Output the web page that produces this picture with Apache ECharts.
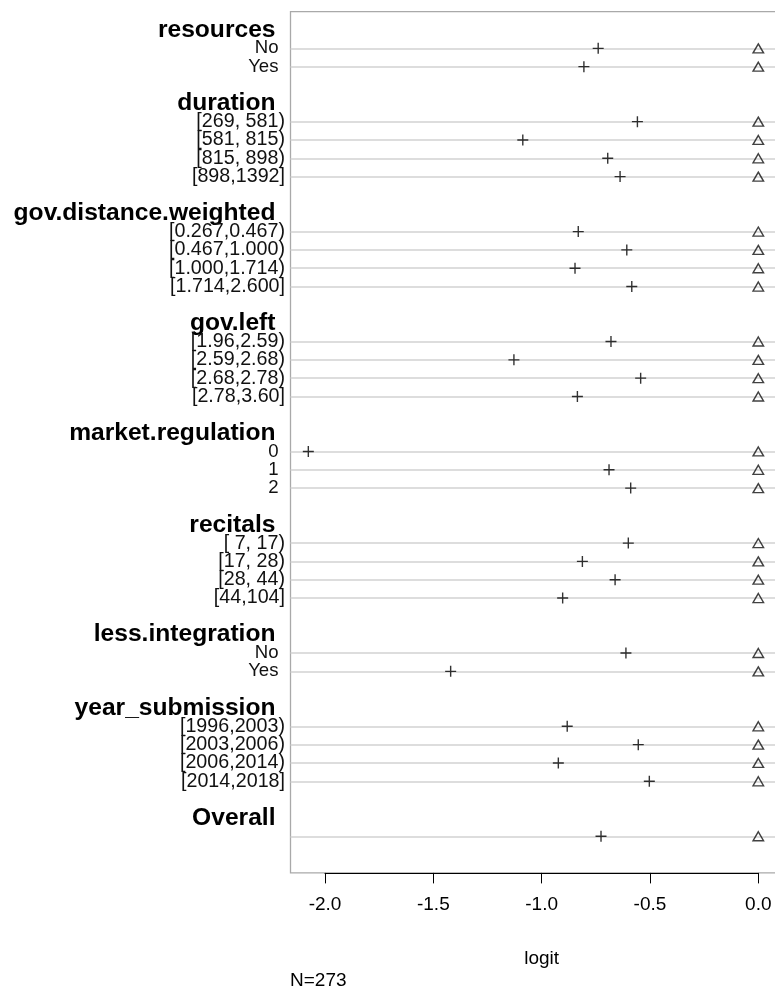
<!DOCTYPE html>
<html>
<head>
<meta charset="utf-8">
<script src="https://cdn.jsdelivr.net/npm/echarts@6/dist/echarts.min.js"></script>
<style>
  html, body { margin: 0; padding: 0; background: #fff; }
  #chart { width: 775px; height: 988px; }
</style>
</head>
<body>
<div id="chart"></div>
<script>
// ---- data ----
const groupNames = ['resources', 'duration', 'gov.distance.weighted', 'gov.left',
  'market.regulation', 'recitals', 'less.integration', 'year_submission', 'Overall'];

const resourcesLevels = ['No', 'Yes'];
const resourcesPlus = [-0.739, -0.805];
const resourcesTri = [0, 0];

const durationLevels = ['[269, 581)', '[581, 815)', '[815, 898)', '[898,1392]'];
const durationPlus = [-0.558, -1.087, -0.695, -0.638];
const durationTri = [0, 0, 0, 0];

const govDistanceLevels = ['[0.267,0.467)', '[0.467,1.000)', '[1.000,1.714)', '[1.714,2.600]'];
const govDistancePlus = [-0.831, -0.607, -0.846, -0.584];
const govDistanceTri = [0, 0, 0, 0];

const govLeftLevels = ['[1.96,2.59)', '[2.59,2.68)', '[2.68,2.78)', '[2.78,3.60]'];
const govLeftPlus = [-0.680, -1.128, -0.543, -0.835];
const govLeftTri = [0, 0, 0, 0];

const marketRegLevels = ['0', '1', '2'];
const marketRegPlus = [-2.077, -0.689, -0.589];
const marketRegTri = [0, 0, 0];

const recitalsLevels = ['[ 7, 17)', '[17, 28)', '[28, 44)', '[44,104]'];
const recitalsPlus = [-0.600, -0.812, -0.661, -0.903];
const recitalsTri = [0, 0, 0, 0];

const lessIntLevels = ['No', 'Yes'];
const lessIntPlus = [-0.611, -1.420];
const lessIntTri = [0, 0];

const yearLevels = ['[1996,2003)', '[2003,2006)', '[2006,2014)', '[2014,2018]'];
const yearPlus = [-0.882, -0.554, -0.923, -0.503];
const yearTri = [0, 0, 0, 0];

const overallLevels = [''];
const overallPlus = [-0.726];
const overallTri = [0];

const xTicks = [-2.0, -1.5, -1.0, -0.5, 0.0];
const xAxisTitle = 'logit';
const footnote = 'N=273';

// ---- build rows ----
const groupLevels = [resourcesLevels, durationLevels, govDistanceLevels, govLeftLevels,
  marketRegLevels, recitalsLevels, lessIntLevels, yearLevels, overallLevels];
const groupPlus = [resourcesPlus, durationPlus, govDistancePlus, govLeftPlus,
  marketRegPlus, recitalsPlus, lessIntPlus, yearPlus, overallPlus];
const groupTri = [resourcesTri, durationTri, govDistanceTri, govLeftTri,
  marketRegTri, recitalsTri, lessIntTri, yearTri, overallTri];

const rowLabels = [''];
const rowKinds = ['b'];
const plusData = [];
const triData = [];
groupNames.forEach((g, gi) => {
  rowLabels.push(g); rowKinds.push('h');
  groupLevels[gi].forEach((lv, li) => {
    const idx = rowLabels.length;
    rowLabels.push(lv); rowKinds.push('l');
    plusData.push([groupPlus[gi][li], idx]);
    triData.push([groupTri[gi][li], idx]);
  });
  rowLabels.push(''); rowKinds.push('b');
});
rowLabels.push(''); rowKinds.push('b');

const FONT = "'Liberation Sans', Arial, Helvetica, sans-serif";
const TOP = 11.7, HEIGHT = 861.2;

const chart = echarts.init(document.getElementById('chart'), null, { renderer: 'canvas' });
chart.setOption({
  animation: false,
  backgroundColor: '#ffffff',
  title: {
    text: footnote, left: 285, top: 966,
    textStyle: { fontFamily: FONT, fontSize: 19, fontWeight: 'normal', color: '#000' }
  },
  grid: [
    { left: 290.5, top: TOP, width: 495, height: HEIGHT, show: true, outerBoundsMode: 'none',
      borderColor: '#a9a9a9', borderWidth: 1.3, backgroundColor: 'transparent', containLabel: false },
    { left: 325, top: TOP, width: 433.3, height: HEIGHT, show: false, outerBoundsMode: 'none',
      containLabel: false }
  ],
  xAxis: [
    { gridIndex: 0, type: 'value', min: -2.163, max: 0.083, show: false },
    { gridIndex: 1, type: 'value', min: xTicks[0], max: xTicks[xTicks.length - 1], interval: 0.5,
      axisLine: { show: true, onZero: false, lineStyle: { color: '#000', width: 1 } },
      axisTick: { show: true, length: 10.5, lineStyle: { color: '#000', width: 1 } },
      splitLine: { show: false },
      axisLabel: { show: true, margin: 22, fontFamily: FONT, fontSize: 19, color: '#000',
        formatter: v => v.toFixed(1) },
      name: xAxisTitle, nameLocation: 'middle', nameGap: 76,
      nameTextStyle: { fontFamily: FONT, fontSize: 19, color: '#000' }
    }
  ],
  yAxis: [
    { gridIndex: 0, type: 'category', data: rowLabels, inverse: true, boundaryGap: false,
      axisLine: { show: false }, axisTick: { show: false },
      splitLine: { show: true, interval: (i) => rowKinds[i] === 'l',
        lineStyle: { color: '#d2d2d2', width: 1.6 } },
      axisLabel: {
        show: true, interval: 0, margin: 5.5, align: 'right',
        formatter: (value, i) => {
          const k = rowKinds[i];
          if (k === 'h') return '{h|' + value + '}';
          if (k === 'l' && value) return (value.charAt(0) === '[' ? '{b|' : '{p|') + value + '}';
          return '';
        },
        rich: {
          h: { fontFamily: FONT, fontSize: 24.6, fontWeight: 'bold', color: '#000', padding: [0, 9.5, 0, 0] },
          b: { fontFamily: FONT, fontSize: 19.7, color: '#111' },
          p: { fontFamily: FONT, fontSize: 18.6, color: '#111', padding: [0, 6.5, 0, 0] }
        }
      }
    },
    { gridIndex: 1, type: 'category', data: rowLabels, inverse: true, boundaryGap: false, show: false }
  ],
  series: [
    { type: 'scatter', xAxisIndex: 1, yAxisIndex: 1, data: plusData, clip: false,
      symbol: 'path://M5,0L5,10M0,5L10,5', symbolSize: 11,
      itemStyle: { color: 'rgba(0,0,0,0)', borderColor: '#000', borderWidth: 1.4 },
      z: 5 },
    { type: 'scatter', xAxisIndex: 1, yAxisIndex: 1, data: triData, clip: false,
      symbol: 'triangle', symbolSize: [10.5, 9],
      itemStyle: { color: 'rgba(0,0,0,0)', borderColor: '#111', borderWidth: 1.4 },
      z: 5 }
  ]
});
</script>
</body>
</html>
